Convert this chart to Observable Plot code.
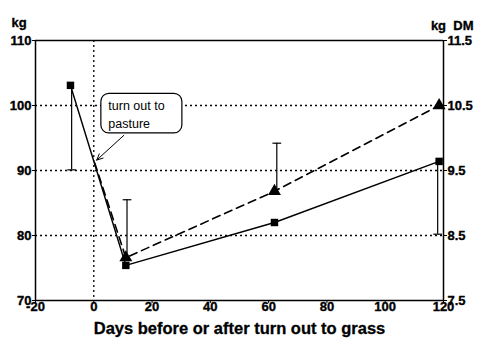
<!DOCTYPE html>
<html>
<head>
<meta charset="utf-8">
<script src="https://cdn.jsdelivr.net/npm/d3@7"></script>
<script src="https://cdn.jsdelivr.net/npm/@observablehq/plot@0.6"></script>
<style>
  html, body { margin: 0; padding: 0; background: #fff; }
  svg { display: block; }
</style>
</head>
<body>
<div id="chart"></div>
<script>
// Days relative to turn out
const solidDays   = [-8, 11, 62, 118.5];
const solidKg     = [103.1, 75.4, 82.0, 91.4];
const dashedDays  = [0.3, 11, 62, 118.5];
const dashedKg    = [91.2, 76.6, 86.8, 100.0];
// error bars: x, from, to
const errDays = [-7.6, 11.4, 62.8, 118.0];
const errFrom = [103.1, 76.6, 86.8, 91.4];
const errTo   = [90.1, 85.5, 94.2, 80.2];
const xTicks = [-20, 0, 20, 40, 60, 80, 100, 120];
const yTicks = [70, 80, 90, 100, 110];
const yRightLabels = ["7.5", "8.5", "9.5", "10.5", "11.5"];
const gridY = [80, 90, 100];
// annotation
const noteText = "turn out to\npasture";
const noteBox = {x1: 2.6, x2: 30.4, y1: 95.7, y2: 101.8};
const noteTextPos = {x: 5.0, y: 98.8};
const noteArrow = {x1: 10.3, y1: 95.4, x2: 1.0, y2: 91.6};

const solid = solidDays.map((d, i) => ({x: d, y: solidKg[i]}));
const dashed = dashedDays.map((d, i) => ({x: d, y: dashedKg[i]}));
const errs = errDays.map((d, i) => ({x: d, y1: errFrom[i], y2: errTo[i]}));
const rightTicks = yTicks.map((v, i) => ({y: v, label: yRightLabels[i]}));
const capHalf = 1.5;

const font = "'Liberation Sans', Arial, Helvetica, sans-serif";
const tickFont = {fontSize: 13, fontWeight: "bold", fill: "#000", stroke: "#000", strokeWidth: 0.35};

const chart = Plot.plot({
  width: 479,
  height: 338,
  marginLeft: 35,
  marginRight: 36,
  marginTop: 40,
  marginBottom: 38,
  style: {fontFamily: font, background: "#fff", color: "#000"},
  x: {domain: [-20, 120]},
  y: {domain: [70, 110]},
  marks: [
    Plot.ruleY(gridY, {stroke: "#000", strokeWidth: 1.3, strokeDasharray: "2,3"}),
    Plot.ruleX([0], {stroke: "#000", strokeWidth: 1.3, strokeDasharray: "2,3"}),
    Plot.ruleY([70, 110], {stroke: "#000", strokeWidth: 1.5}),
    Plot.ruleX([-20, 120], {stroke: "#000", strokeWidth: 1.5}),
    // tick marks
    Plot.axisY({anchor: "left", ticks: yTicks, tickSize: 3, tickFormat: () => "", label: null}),
    Plot.axisY({anchor: "right", ticks: yTicks, tickSize: 3, tickFormat: () => "", label: null}),
    Plot.axisX({anchor: "bottom", ticks: xTicks, tickSize: 3, tickFormat: () => "", label: null}),
    // tick labels
    Plot.text(yTicks, {y: d => d, text: d => String(d), frameAnchor: "left", dx: -4, textAnchor: "end", ...tickFont}),
    Plot.text(rightTicks, {y: "y", text: "label", frameAnchor: "right", dx: 4, textAnchor: "start", ...tickFont}),
    Plot.text(xTicks, {x: d => d, text: d => String(d), frameAnchor: "bottom", dy: 10.5, ...tickFont}),
    // error bars
    Plot.ruleX(errs, {x: "x", y1: "y1", y2: "y2", stroke: "#000", strokeWidth: 1.2}),
    Plot.link(errs, {x1: d => d.x - capHalf, x2: d => d.x + capHalf, y1: "y2", y2: "y2", stroke: "#000", strokeWidth: 1.2}),
    // lines
    Plot.line(solid, {x: "x", y: "y", stroke: "#000", strokeWidth: 1.5}),
    Plot.line(dashed, {x: "x", y: "y", stroke: "#000", strokeWidth: 1.6, strokeDasharray: "8,5"}),
    Plot.dot(solid, {x: "x", y: "y", symbol: "square", r: 4.2, fill: "#000"}),
    Plot.dot(dashed.slice(1), {x: "x", y: "y", symbol: "triangle", r: 4.8, fill: "#000"}),
    // annotation
    Plot.rect([noteBox], {x1: "x1", x2: "x2", y1: "y1", y2: "y2", fill: "#fff", stroke: "#000", strokeWidth: 1.2, rx: 8}),
    Plot.text([noteText], {x: noteTextPos.x, y: noteTextPos.y, text: d => d, textAnchor: "start", fontSize: 12.5, lineHeight: 1.45, fill: "#000"}),
    Plot.arrow([noteArrow], {x1: "x1", y1: "y1", x2: "x2", y2: "y2", stroke: "#000", strokeWidth: 1, headLength: 10, headAngle: 50}),
    // unit labels and title
    Plot.text(["kg"], {frameAnchor: "top-left", dx: -24, dy: -23, textAnchor: "start", ...tickFont}),
    Plot.text(["kg  DM"], {frameAnchor: "top-right", dx: 30, dy: -20, textAnchor: "end", ...tickFont}),
    Plot.text(["Days before or after turn out to grass"], {frameAnchor: "bottom", dy: 33, fontSize: 16.5, fontWeight: "bold", fill: "#000", stroke: "#000", strokeWidth: 0.3})
  ]
});
document.getElementById("chart").appendChild(chart);
</script>
</body>
</html>
